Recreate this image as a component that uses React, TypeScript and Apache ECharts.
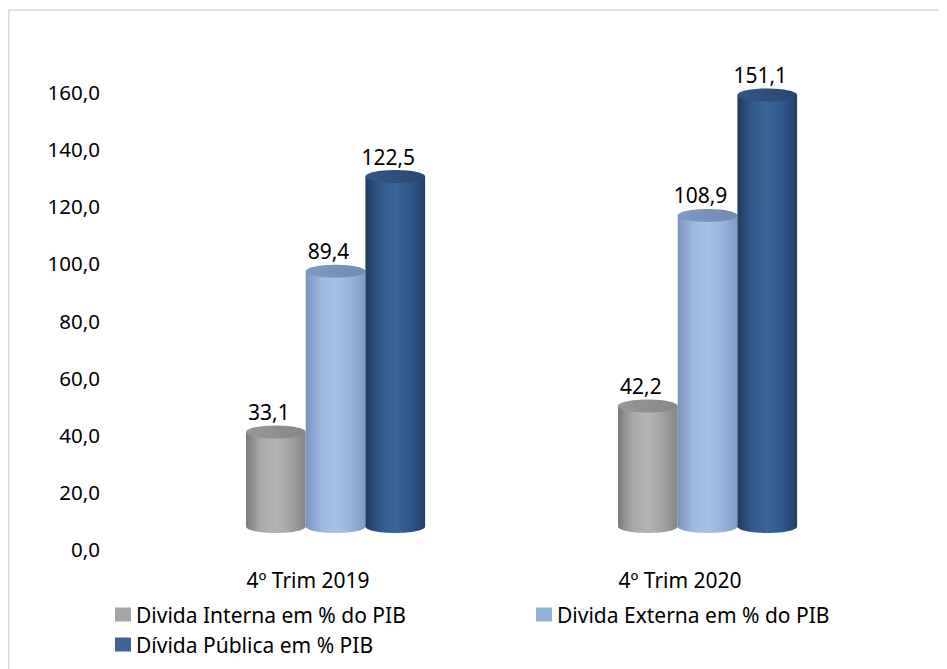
import React, { useEffect, useRef } from "react";
import * as echarts from "echarts";

const categories = ["4º Trim 2019", "4º Trim 2020"];
const seriesNames = [
  "Divida Interna em % do PIB",
  "Divida Externa em % do PIB",
  "Dívida Pública em % PIB",
];
const interna = [33.1, 42.2];
const externa = [89.4, 108.9];
const publica = [122.5, 151.1];
const yTicks = { min: 0, max: 160, interval: 20 };

const FONT = "Noto Sans";
const BAR_FRAC = 0.1605;
const OFFSET_FRAC = -0.1667;
const DEPTH_DY = -22.5;
const RY = 6.5;

const palettes = [
  { legend: "#a5a5a5", side: ["#7b7b7b", "#a9a9a9", "#b4b4b4", "#a2a2a2", "#858585"], top: ["#979797", "#878787"] },
  { legend: "#95b3d7", side: ["#7893bd", "#9db8df", "#a6c2e7", "#98b3db", "#7f9ac4"], top: ["#8099c2", "#6f89b2"] },
  { legend: "#3c6497", side: ["#1f3a61", "#33598b", "#3b659b", "#315687", "#223f68"], top: ["#34578a", "#284670"] },
];

const fmt = (v: number) => v.toFixed(1).replace(".", ",");

function grad(stops: string[]) {
  return {
    type: "linear",
    x: 0,
    y: 0,
    x2: 1,
    y2: 0,
    colorStops: stops.map((c, i) => ({ offset: i / (stops.length - 1), color: c })),
  };
}

function makeRender(si: number) {
  const pal = palettes[si];
  return (params: any, api: any) => {
    const idx = api.value(0);
    const val = api.value(1);
    const topPt = api.coord([idx, val]);
    const basePt = api.coord([idx, 0]);
    const band = api.size([1, 0])[0];
    const w = band * BAR_FRAC;
    const left = topPt[0] + band * OFFSET_FRAC + si * w;
    const yTop = topPt[1] + DEPTH_DY;
    const yBase = basePt[1] + DEPTH_DY;
    const cxb = left + w / 2;
    return {
      type: "group",
      children: [
        {
          type: "ellipse",
          shape: { cx: cxb, cy: yBase, rx: w / 2, ry: RY },
          style: { fill: grad(pal.side) },
        },
        {
          type: "rect",
          shape: { x: left, y: yTop, width: w, height: yBase - yTop },
          style: { fill: grad(pal.side) },
        },
        {
          type: "ellipse",
          shape: { cx: cxb, cy: yTop, rx: w / 2, ry: RY },
          style: { fill: grad(pal.top) },
        },
        {
          type: "text",
          x: cxb - 7,
          y: yTop - 20,
          style: {
            text: fmt(val),
            fill: "#000",
            fontSize: 21,
            fontFamily: FONT,
            align: "center",
            verticalAlign: "middle",
          },
        },
      ],
    };
  };
}

export default function App() {
  const ref = useRef<HTMLDivElement>(null);
  useEffect(() => {
    if (!ref.current) return;
    const chart = echarts.init(ref.current, null, { renderer: "svg" });
    const all = [interna, externa, publica];
    const legendPos = [
      { left: 107, top: 596 },
      { left: 528, top: 596 },
      { left: 107, top: 626 },
    ];
    chart.setOption({
      animation: false,
      backgroundColor: "#fff",
      textStyle: { fontFamily: FONT },
      graphic: [
        {
          type: "rect",
          shape: { x: 0.75, y: 2, width: 2000, height: 2000 },
          style: { fill: "none", stroke: "#d9d9d9", lineWidth: 1.5 },
          silent: true,
          z: -10,
        },
      ],
      legend: seriesNames.map((n, i) => ({
        data: [n],
        left: legendPos[i].left,
        top: legendPos[i].top,
        icon: "rect",
        itemWidth: 16,
        itemHeight: 14,
        padding: 0,
        textStyle: { fontSize: 21, color: "#000", fontFamily: FONT },
        selectedMode: false,
      })),
      grid: { left: 114, width: 744, top: 84, height: 457, containLabel: false },
      xAxis: {
        type: "category",
        data: categories,
        axisLine: { show: false },
        axisTick: { show: false },
        axisLabel: { fontSize: 21, color: "#000", margin: 20, fontFamily: FONT },
      },
      yAxis: {
        type: "value",
        min: yTicks.min,
        max: yTicks.max,
        interval: yTicks.interval,
        axisLine: { show: false },
        axisTick: { show: false },
        splitLine: { show: false },
        axisLabel: {
          fontSize: 20.5,
          color: "#000",
          margin: 22,
          fontFamily: FONT,
          formatter: (v: number) => fmt(v),
        },
      },
      series: all.map((arr, si) => ({
        type: "custom",
        name: seriesNames[si],
        clip: false,
        itemStyle: { color: palettes[si].legend },
        encode: { x: 0, y: 1 },
        data: arr.map((v, i) => [i, v]),
        renderItem: makeRender(si),
      })),
    });
    return () => chart.dispose();
  }, []);
  return <div ref={ref} style={{ width: 939, height: 661 }} />;
}
